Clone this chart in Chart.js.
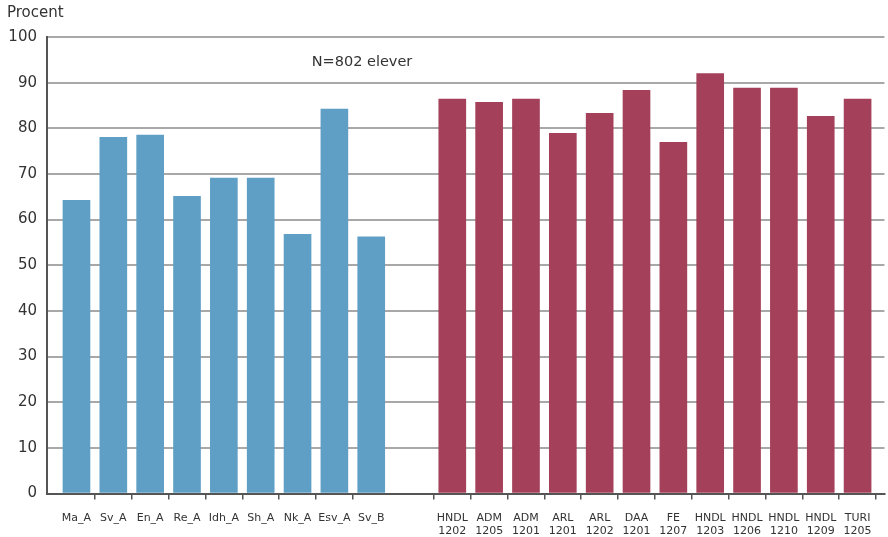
<!DOCTYPE html>
<html>
<head>
<meta charset="utf-8">
<script src="https://cdn.jsdelivr.net/npm/chart.js@4"></script>
<style>
    html, body { margin: 0; padding: 0; background: #ffffff; }
    #wrap { width: 888px; height: 537px; position: relative; }
</style>
</head>
<body>
<div id="wrap"><canvas id="elevChart"></canvas></div>
<script>
// Kurser, grupp 1 (blå) och grupp 2 (röd)
const courseLabels = ["Ma_A", "Sv_A", "En_A", "Re_A", "Idh_A", "Sh_A", "Nk_A", "Esv_A", "Sv_B"];
const courseValues = [64.2, 78.0, 78.5, 65.1, 69.1, 69.1, 56.8, 84.2, 56.2];

const programLabels = [
    ["HNDL", "1202"], ["ADM", "1205"], ["ADM", "1201"], ["ARL", "1201"],
    ["ARL", "1202"], ["DAA", "1201"], ["FE", "1207"], ["HNDL", "1203"],
    ["HNDL", "1206"], ["HNDL", "1210"], ["HNDL", "1209"], ["TURI", "1205"]
];
const programValues = [86.4, 85.7, 86.4, 78.9, 83.3, 88.3, 76.9, 92.0, 88.8, 88.8, 82.6, 86.4];

const yTicks = [0, 10, 20, 30, 40, 50, 60, 70, 80, 90, 100];

// position of the second group on the x axis (in category slots)
const groupTwoStart = 10.2;

document.addEventListener("DOMContentLoaded", function () {
    const canvas = document.getElementById("elevChart");
    if (!canvas || !window.Chart) return;

    const coursePoints = courseValues.map(function (v, i) { return { x: i, y: v }; });
    const programPoints = programValues.map(function (v, i) { return { x: groupTwoStart + i, y: v }; });

    // ticks: label at each bar centre, tick mark at slot boundaries
    const xTicks = [];
    courseLabels.forEach(function (lbl, i) {
        xTicks.push({ value: i, label: lbl, mark: false });
        if (i < courseLabels.length - 1) xTicks.push({ value: i + 0.5, label: "", mark: true });
    });
    programLabels.forEach(function (lbl, i) {
        const c = groupTwoStart + i;
        if (i === 0) xTicks.push({ value: c - 0.5, label: "", mark: true });
        xTicks.push({ value: c, label: lbl, mark: false });
        xTicks.push({ value: c + 0.5, label: "", mark: true });
    });

    const textPlugin = {
        id: "extraText",
        afterDraw: function (chart) {
            const ctx = chart.ctx;
            ctx.save();
            ctx.fillStyle = "#333333";
            ctx.font = "15px 'DejaVu Sans'";
            ctx.textBaseline = "middle";
            ctx.textAlign = "left";
            ctx.fillText("Procent", 7, 13);
            ctx.font = "14.5px 'DejaVu Sans'";
            ctx.textAlign = "center";
            ctx.fillText("N=802 elever", 362, 62);
            ctx.restore();
        }
    };

    new Chart(canvas.getContext("2d"), {
        type: "bar",
        data: {
            datasets: [
                {
                    label: "Kurser",
                    data: coursePoints,
                    backgroundColor: "#609fc5",
                    barThickness: 27
                },
                {
                    label: "Program",
                    data: programPoints,
                    backgroundColor: "#a4405a",
                    barThickness: 27
                }
            ]
        },
        options: {
            responsive: true,
            maintainAspectRatio: false,
            animation: false,
            grouped: false,
            layout: {
                padding: { top: 37, left: 0, right: 0, bottom: 0 }
            },
            scales: {
                x: {
                    type: "linear",
                    offset: false,
                    min: -0.8,
                    max: 21.93,
                    afterBuildTicks: function (scale) {
                        scale.ticks = xTicks.map(function (t) { return { value: t.value }; });
                    },
                    afterFit: function (scale) {
                        scale.height = 43.5;
                    },
                    ticks: {
                        autoSkip: false,
                        maxRotation: 0,
                        minRotation: 0,
                        padding: 12,
                        color: "#333333",
                        font: { family: "'DejaVu Sans'", size: 11 },
                        callback: function (value, index) {
                            return xTicks[index] ? xTicks[index].label : "";
                        }
                    },
                    grid: {
                        offset: false,
                        drawOnChartArea: false,
                        drawTicks: true,
                        tickLength: 6,
                        lineWidth: 1.5,
                        color: function (ctx) {
                            const t = xTicks[ctx.index];
                            return t && t.mark ? "#555555" : "rgba(0,0,0,0)";
                        }
                    },
                    border: {
                        color: "#555555",
                        width: 2
                    }
                },
                y: {
                    min: 0,
                    max: 100,
                    afterBuildTicks: function (scale) {
                        scale.ticks = yTicks.map(function (v) { return { value: v }; });
                    },
                    afterFit: function (scale) {
                        scale.width = 47;
                    },
                    ticks: {
                        padding: 10,
                        color: "#333333",
                        font: { family: "'DejaVu Sans'", size: 15 }
                    },
                    grid: {
                        drawTicks: false,
                        color: "#a8a8a8",
                        lineWidth: 2
                    },
                    border: {
                        color: "#555555",
                        width: 2
                    }
                }
            },
            plugins: {
                legend: { display: false },
                tooltip: { enabled: false }
            }
        },
        plugins: [textPlugin]
    });
});
</script>
</body>
</html>
